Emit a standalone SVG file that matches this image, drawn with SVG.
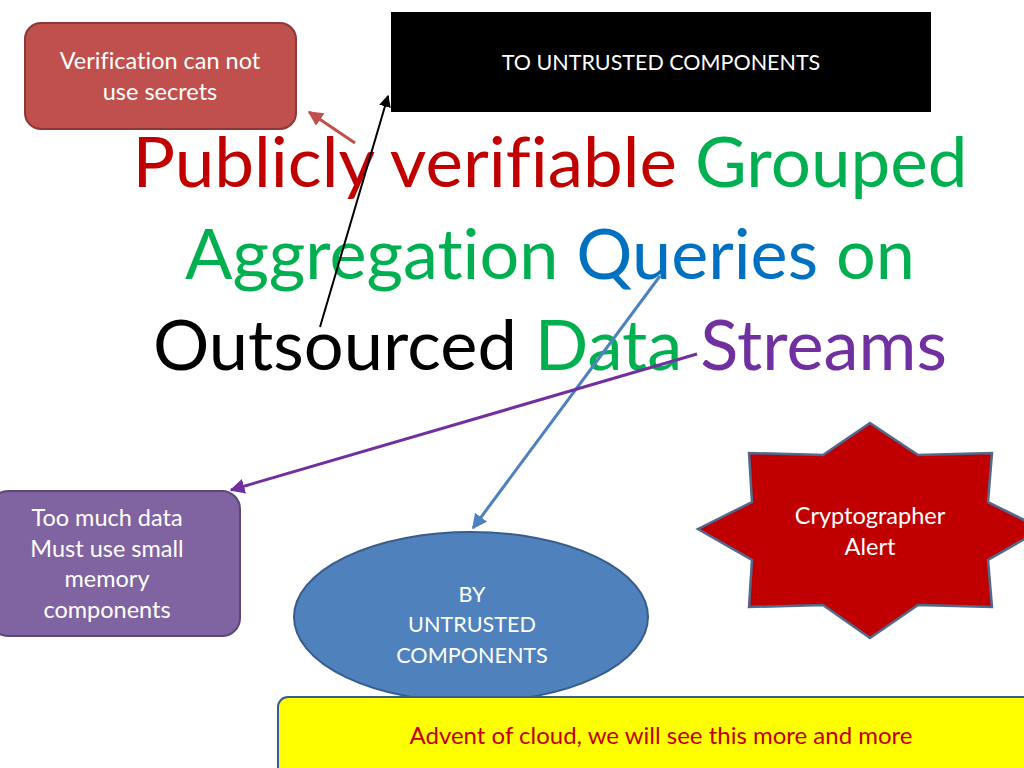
<svg xmlns="http://www.w3.org/2000/svg" width="1024" height="768" viewBox="0 0 1024 768">
<defs>
<style>
text{font-family:Lato,"Open Sans","Liberation Sans",sans-serif;font-variant-ligatures:none;}
.w{fill:#ffffff;font-size:23.5px;text-anchor:middle;}
.c{fill:#ffffff;font-size:21.6px;text-anchor:middle;}
.t{font-size:70px;text-anchor:middle;}
.r{fill:#c00000}.g{fill:#00b050}.b{fill:#0070c0}.k{fill:#000000}.p{fill:#7030a0}
</style>
<marker id="mr" viewBox="0 0 10 10" refX="9" refY="5" markerWidth="5" markerHeight="5" orient="auto"><path d="M0,0L10,5L0,10z" fill="#c0504d"/></marker>
<marker id="mb" viewBox="0 0 10 10" refX="9" refY="5" markerWidth="6" markerHeight="6" orient="auto"><path d="M0,0L10,5L0,10z" fill="#000000"/></marker>
<marker id="ml" viewBox="0 0 10 10" refX="9" refY="5" markerWidth="5" markerHeight="5" orient="auto"><path d="M0,0L10,5L0,10z" fill="#4f81bd"/></marker>
<marker id="mp" viewBox="0 0 10 10" refX="9" refY="5" markerWidth="5" markerHeight="5" orient="auto"><path d="M0,0L10,5L0,10z" fill="#7030a0"/></marker>
</defs>
<rect width="1024" height="768" fill="#ffffff"/>

<g id="title">
<text class="t" x="550" y="187" textLength="835" lengthAdjust="spacingAndGlyphs"><tspan class="r">Publicly verifiable </tspan><tspan class="g">Grouped</tspan></text>
<text class="t" x="550" y="279" textLength="730" lengthAdjust="spacingAndGlyphs"><tspan class="g">Aggregation </tspan><tspan class="b">Queries </tspan><tspan class="g">on</tspan></text>
<text class="t" x="550" y="370" textLength="794" lengthAdjust="spacingAndGlyphs"><tspan class="k">Outsourced </tspan><tspan class="g">Data </tspan><tspan class="p">Streams</tspan></text>
</g>

<g id="untrusted-top">
<rect x="391" y="12" width="540" height="100" fill="#000000"/>
<text x="661" y="70" fill="#ffffff" font-size="21.5" text-anchor="middle">TO UNTRUSTED COMPONENTS</text>
</g>

<g id="verification">
<rect x="25" y="23" width="271" height="106" rx="16" fill="#c0504d" stroke="#8c3836" stroke-width="2"/>
<text class="w" x="160" y="69">Verification can not</text>
<text class="w" x="160" y="100">use secrets</text>
</g>

<g id="memory">
<rect x="-10" y="491" width="250" height="145" rx="18" fill="#8064a2" stroke="#5c4776" stroke-width="2"/>
<text class="w" x="107" y="526">Too much data</text>
<text class="w" x="107" y="557">Must use small</text>
<text class="w" x="107" y="587">memory</text>
<text class="w" x="107" y="618">components</text>
</g>

<g id="by-untrusted">
<ellipse cx="471" cy="617" rx="177" ry="85" fill="#4f81bd" stroke="#385d8a" stroke-width="2"/>
<text class="c" x="472" y="602">BY</text>
<text class="c" x="472" y="632">UNTRUSTED</text>
<text class="c" x="472" y="663">COMPONENTS</text>
</g>

<g id="cryptographer">
<polygon points="870,423 918,455 992,453 988,502 1042,529 988,560 992,607 918,605 870,638 823,605 749,607 752,560 698,529 752,502 749,453 823,455" fill="#c00000" stroke="#4f6a8e" stroke-width="2.5" stroke-linejoin="miter"/>
<text class="w" x="870" y="524">Cryptographer</text>
<text class="w" x="870" y="555">Alert</text>
</g>

<g id="cloud">
<rect x="278" y="697" width="760" height="80" rx="10" fill="#ffff00" stroke="#385d8a" stroke-width="2"/>
<text x="661" y="744" fill="#c00000" font-size="24" text-anchor="middle">Advent of cloud, we will see this more and more</text>
</g>

<g id="connectors" fill="none">
<line x1="355" y1="143" x2="309" y2="112" stroke="#c0504d" stroke-width="3" marker-end="url(#mr)"/>
<line x1="320" y1="327" x2="388" y2="96" stroke="#000000" stroke-width="2" marker-end="url(#mb)"/>
<line x1="660" y1="276" x2="473" y2="528" stroke="#4f81bd" stroke-width="3" marker-end="url(#ml)"/>
<line x1="697" y1="354" x2="231" y2="490" stroke="#7030a0" stroke-width="3" marker-end="url(#mp)"/>
</g>
</svg>
